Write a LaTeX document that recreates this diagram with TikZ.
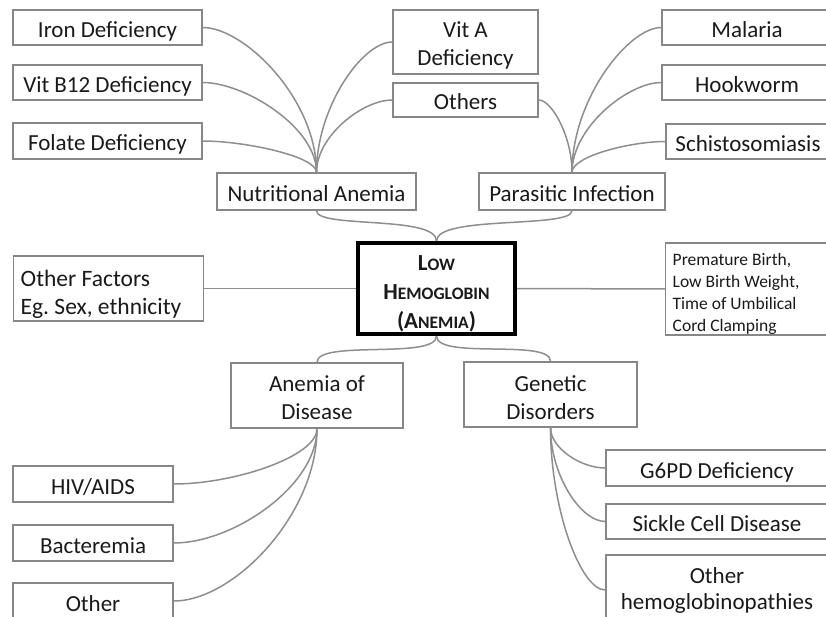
\documentclass[tikz,border=0pt]{standalone}
\usepackage{fontspec}
\setmainfont{Carlito}
\frenchspacing
\definecolor{linegray}{HTML}{8E8E8E}
\definecolor{boxgray}{HTML}{878787}
\definecolor{txt}{HTML}{1A1A1A}
\newcommand\fscx[1]{{\fontsize{17.5}{29}\selectfont #1}}
\newcommand\lift[1]{\rule{0pt}{#1}}
\tikzset{
  box/.style={draw=boxgray, line width=1.4pt, fill=white, inner sep=0pt, text=txt,
    font=\fontsize{23}{28}\selectfont, align=center},
  one/.style={box, text height=20pt, text depth=0pt},
  link/.style={draw=linegray, line width=1.5pt},
}
\begin{document}
\begin{tikzpicture}[x=1pt,y=-1pt]
\useasboundingbox (0,0) rectangle (826,617);
\clip (0,0) rectangle (826,617);
\fill[white] (0,0) rectangle (826,617);

% top left
\node[one, minimum width=189pt, minimum height=35pt] (iron) at (107.5,27.5) {Iron Deficiency};
\node[one, minimum width=189pt, minimum height=35pt] (b12) at (107.5,82.5) {Vit B12 Deficiency};
\node[one, minimum width=189pt, minimum height=36pt] (folate) at (107.5,141) {Folate Deficiency};
\node[one, minimum width=199pt, minimum height=37pt] (nutr) at (316.5,191.5) {Nutritional Anemia};
\node[box, minimum width=145pt, minimum height=64pt] (vita) at (465.5,42) {\lift{23pt}Vit A\\Deficiency};
\node[one, minimum width=145pt, minimum height=34pt] (others) at (465.5,100) {Others};

% top right
\node[one, minimum width=170pt, minimum height=35pt] (malaria) at (747,27.5) {Malaria};
\node[one, minimum width=170pt, minimum height=35pt] (hook) at (747,82.5) {Hookworm};
\node[one, minimum width=164pt, minimum height=35pt] (schisto) at (748,141.5) {Schistosomiasis};
\node[one, minimum width=186pt, minimum height=37pt] (para) at (572,191.5) {Parasitic Infection};

% centre row
\node[box, draw=black, line width=4pt, minimum width=157pt, minimum height=91pt,
  font=\fontsize{23}{29}\selectfont\bfseries] (center) at (436.5,288.5)
  {\lift{25.5pt}L\fscx{OW}\\H\fscx{EMOGLOBIN}\\(A\fscx{NEMIA})};
\node[box, anchor=west, minimum height=65pt, text width=176pt, inner xsep=7pt, align=flush left,
  font=\fontsize{23.5}{28.5}\selectfont] (otherf) at (13,288.5)
  {\lift{28pt}Other Factors\\Eg. Sex, ethnicity};
\node[box, anchor=west, minimum height=92pt, text width=170pt, inner xsep=7pt, align=flush left,
  font=\fontsize{17.5}{21.7}\selectfont] (prem) at (665,289)
  {\lift{22pt}Premature Birth,\\Low Birth Weight,\\Time of Umbilical\\Cord Clamping};

% bottom
\node[box, minimum width=172pt, minimum height=65pt] (aod) at (317,395.5) {\lift{21pt}Anemia of\\Disease};
\node[box, minimum width=173pt, minimum height=65pt] (genetic) at (550.5,394.5) {\lift{22pt}Genetic\\Disorders};
\node[one, minimum width=160pt, minimum height=36pt] (hiv) at (93,484) {HIV/AIDS};
\node[one, minimum width=160pt, minimum height=36pt] (bact) at (93,543) {Bacteremia};
\node[one, minimum width=160pt, minimum height=36pt] (other) at (93,601) {Other};
\node[one, minimum width=222pt, minimum height=36pt] (g6pd) at (717,468) {G6PD Deficiency};
\node[one, minimum width=222pt, minimum height=35pt] (sickle) at (717,521.5) {Sickle Cell Disease};
\node[box, minimum width=222pt, minimum height=70pt, font=\fontsize{23}{26}\selectfont] (ohemo) at (717,590) {\lift{16pt}Other\\hemoglobinopathies};

% connectors: nutritional
\draw[link] (iron.east) .. controls +(42,0) and +(0,-73) .. (nutr.north);
\draw[link] (b12.east) .. controls +(42,0) and +(0,-45) .. (nutr.north);
\draw[link] (folate.east) .. controls +(42,0) and +(0,-16) .. (nutr.north);
\draw[link] (vita.west) .. controls +(-30,0) and +(0,-65) .. (nutr.north);
\draw[link] (others.west) .. controls +(-30,0) and +(0,-36) .. (nutr.north);
% parasitic
\draw[link] (malaria.west) .. controls +(-33,0) and +(0,-73) .. (para.north);
\draw[link] (hook.west) .. controls +(-33,0) and +(0,-45) .. (para.north);
\draw[link] (schisto.west) .. controls +(-35,0) and +(0,-16) .. (para.north);
\draw[link] (others.east) .. controls +(13,0) and +(0,-36) .. (para.north);
% to centre
\draw[link] (nutr.south) .. controls +(0,18) and +(0,-26) .. (center.north);
\draw[link] (para.south) .. controls +(0,18) and +(0,-26) .. (center.north);
\draw[link] (center.west) -- (otherf.east);
\draw[link] (center.east) -- (prem.west);
\draw[link] (center.south) .. controls +(0,24) and +(0,-23) .. (aod.north);
\draw[link] (center.south) .. controls +(0,24) and +(0,-23) .. (genetic.north);
% anemia of disease
\draw[link] (aod.south) .. controls +(0,28) and +(60,0) .. (hiv.east);
\draw[link] (aod.south) .. controls +(0,57) and +(60,0) .. (bact.east);
\draw[link] (aod.south) .. controls +(0,86) and +(60,0) .. (other.east);
% genetic
\draw[link] (genetic.south) .. controls +(0,20) and +(-25,0) .. (g6pd.west);
\draw[link] (genetic.south) .. controls +(0,47) and +(-25,0) .. (sickle.west);
\draw[link] (genetic.south) .. controls +(0,80) and +(-25,0) .. (ohemo.west);
\end{tikzpicture}
\end{document}
